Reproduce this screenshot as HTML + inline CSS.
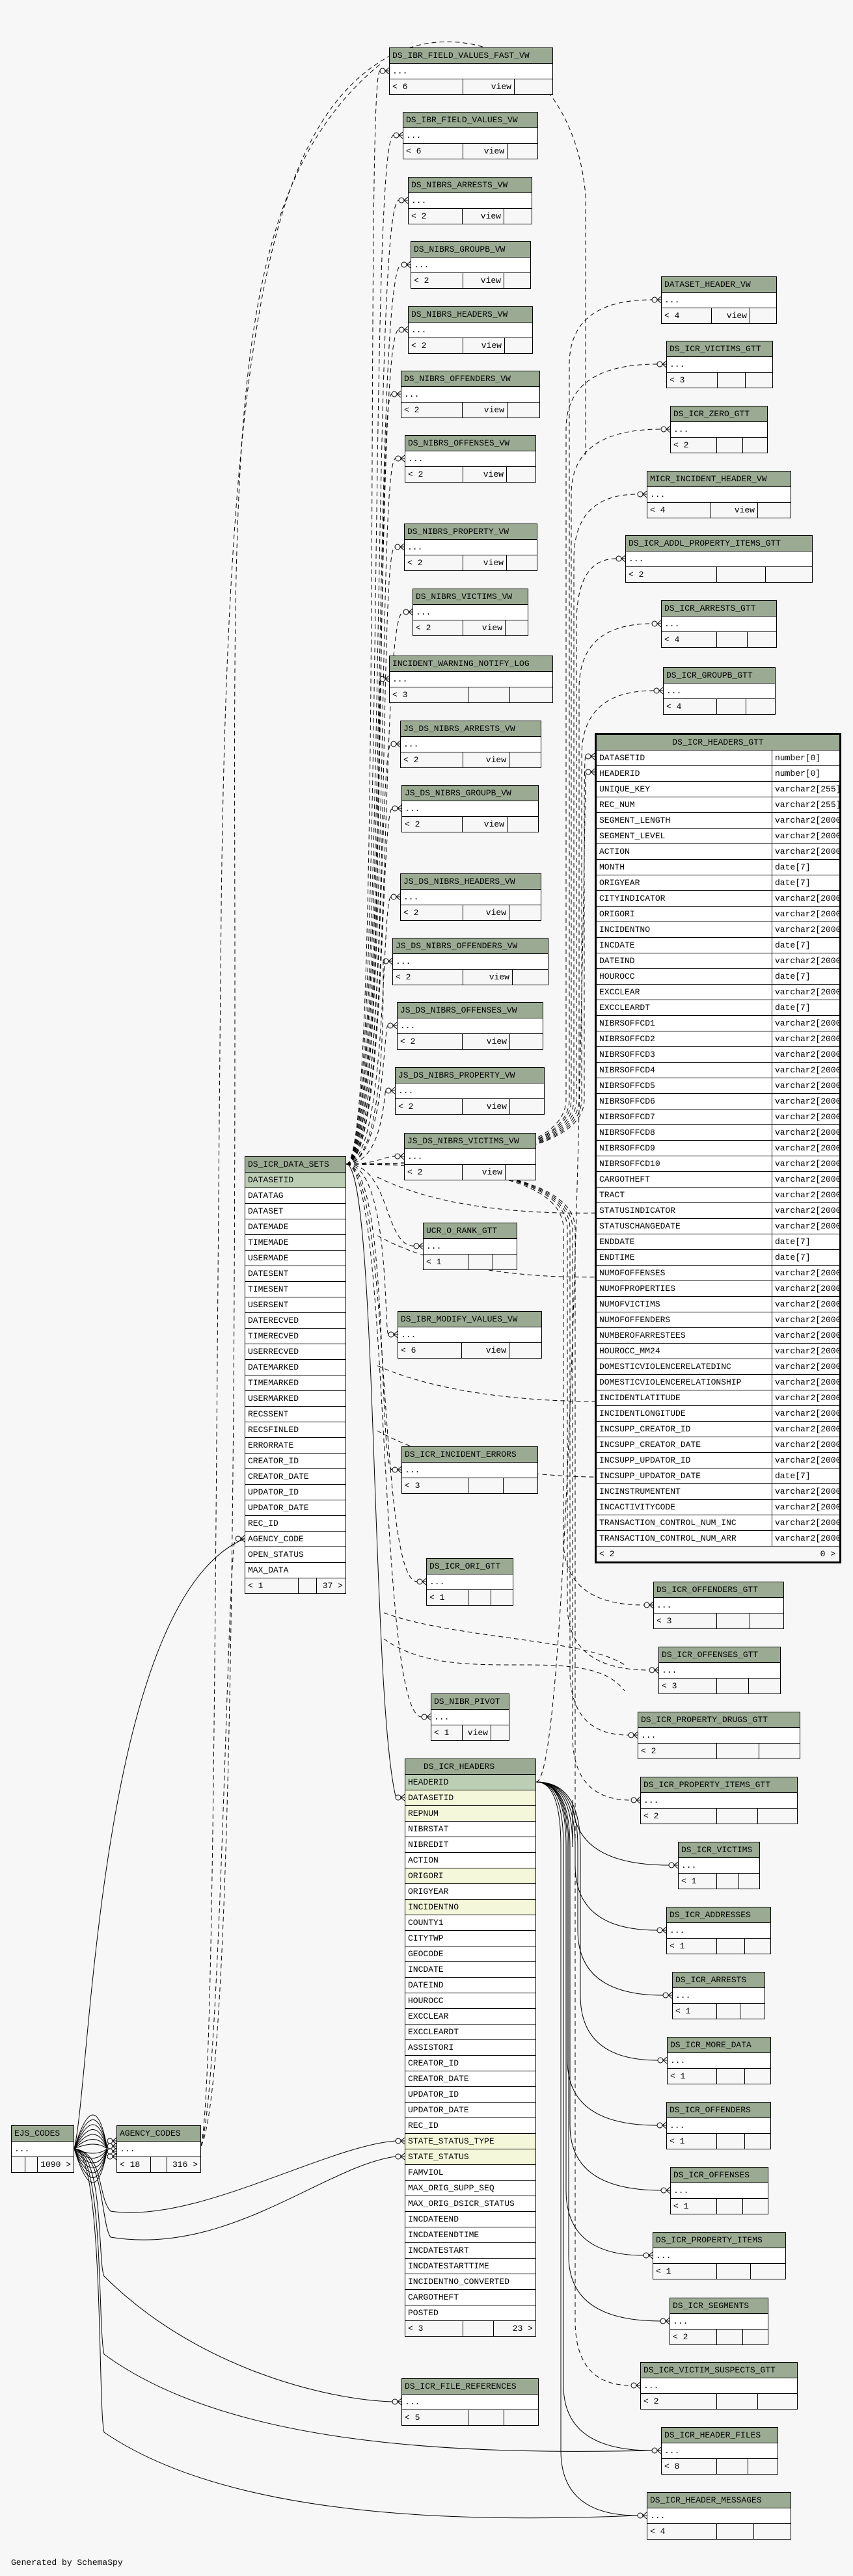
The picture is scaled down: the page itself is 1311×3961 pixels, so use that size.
<!DOCTYPE html>
<html><head><meta charset="utf-8">
<style>
*{box-sizing:border-box;margin:0;padding:0}
body{width:1311px;height:3961px;background:#f7f7f7;position:relative;overflow:hidden;font-family:"Liberation Mono","DejaVu Sans Mono",monospace;font-size:13px;color:#000}
svg{position:absolute;left:0;top:0}
.t{position:absolute;border:1px solid #000;background:#fff}
.t>div{height:24px;line-height:23px;border-top:1px solid #000;padding-left:4px;white-space:nowrap;overflow:hidden}
.t>div:first-child{border-top:none;height:23px}
.h{background:#9bab93}
.pk{background:#bccfb5}
.fk{background:#f4f7da}
.f{display:flex;background:#f7f7f7;padding-left:0!important}
.f span{display:block;height:23px;border-right:1px solid #000;padding:0 4px}
.f span:last-child{border-right:none;flex:1}
.r{background:#fff}
.g{border:3px solid #000}
.g>div{display:flex;padding-left:0}
.g>div span{display:block;padding-left:4px;overflow:hidden}
.g>div span:first-child{width:270px;border-right:1px solid #000}
.g>div span:last-child{flex:1}
.gen{position:absolute;left:17px;top:3933px;font-size:13px}
</style></head><body>
<svg width="1311" height="3961" viewBox="0 0 1311 3961">
<defs><g id="cf"><circle cx="-10" cy="0" r="4" fill="none" stroke="#000"/><path d="M-6,0 H0 M-6,0 L0,-5 M-6,0 L0,5" stroke="#000" fill="none"/></g></defs>
<g fill="none" stroke="#000" stroke-width="1" stroke-dasharray="7,5">
<path d="M532,1790 C590,1790 560,109 584,109"/>
<path d="M532,1790 C592,1790 565,208 605,208"/>
<path d="M532,1790 C594,1790 570,308 613,308"/>
<path d="M532,1790 C596,1790 572,407 617,407"/>
<path d="M532,1790 C598,1790 574,507 613,507"/>
<path d="M532,1790 C600,1790 576,606 602,606"/>
<path d="M532,1790 C602,1790 578,705 608,705"/>
<path d="M532,1790 C604,1790 580,841 607,841"/>
<path d="M532,1790 C606,1790 582,941 620,941"/>
<path d="M532,1790 C590,1790 580,1044 584,1044"/>
<path d="M532,1790 C592,1790 582,1144 601,1144"/>
<path d="M532,1790 C594,1790 584,1243 603,1243"/>
<path d="M532,1790 C596,1790 586,1379 601,1379"/>
<path d="M532,1790 C598,1790 588,1478 589,1478"/>
<path d="M532,1790 C590,1790 590,1577 596,1577"/>
<path d="M532,1790 C590,1790 590,1677 593,1677"/>
<path d="M532,1790 C580,1790 590,1778 607,1778"/>
<path d="M532,1790 C600,1790 590,1916 636,1916"/>
<path d="M532,1790 C600,1790 590,2052 597,2052"/>
<path d="M532,1790 C600,1790 580,2260 603,2260"/>
<path d="M532,1790 C600,1790 580,2432 641,2432"/>
<path d="M532,1790 C600,1790 580,2640 648,2640"/>
<path d="M532,1790 Q875,1790 875,1690 L875,561 Q875,461 1002,461"/>
<path d="M532,1790 Q870,1790 870,1690 L870,660 Q870,560 1010,560"/>
<path d="M532,1790 Q878,1790 878,1690 L878,760 Q878,660 1016,660"/>
<path d="M532,1790 Q882,1790 882,1690 L882,860 Q882,760 980,760"/>
<path d="M532,1790 Q886,1790 886,1690 L886,959 Q886,859 947,859"/>
<path d="M532,1790 Q890,1790 890,1690 L890,1059 Q890,959 1002,959"/>
<path d="M532,1790 Q894,1790 894,1690 L894,1162 Q894,1062 1005,1062"/>
<path d="M532,1790 Q898,1790 898,1690 L898,1263 Q898,1163 900,1163"/>
<path d="M532,1790 Q866,1790 866,1890 L866,2368 Q866,2468 990,2468"/>
<path d="M532,1790 Q872,1790 872,1890 L872,2468 Q872,2568 998,2568"/>
<path d="M532,1790 Q876,1790 876,1890 L876,2568 Q876,2668 966,2668"/>
<path d="M532,1790 Q880,1790 880,1890 L880,2668 Q880,2768 970,2768"/>
<path d="M532,1790 Q884,1790 884,1890 L884,3568 Q884,3668 970,3668"/>
<path d="M824,2740 C880,2740 900,1187 900,1187"/>
<path d="M580,1810 C760,1900 1100,1860 1200,1830"/>
<path d="M580,1900 C760,2000 1100,1960 1200,1930"/>
<path d="M580,2100 C760,2180 1100,2160 1200,2120"/>
<path d="M580,2200 C760,2300 1100,2280 1200,2230"/>
<path d="M590,2480 C700,2520 900,2520 960,2560"/>
<path d="M590,2520 C700,2600 900,2520 960,2600"/>
<path d="M309,3300 C360,3200 361,2000 361,1500 C361,700 340,300 584,99"/>
<path d="M309,3300 C330,3200 330,2400 340,1400 C350,500 420,200 584,95 C700,20 880,80 900,300 L900,700"/>
<path d="M309,3300 C340,3200 350,2366 362,2366"/>
</g>
<g fill="none" stroke="#000" stroke-width="1">
<path d="M532,1790 C580,1790 570,2600 608,2762"/>
<path d="M824,2740 Q880,2740 880,2840 L880,2768 Q880,2868 1028,2868"/>
<path d="M824,2740 Q884,2740 884,2840 L884,2868 Q884,2968 1010,2968"/>
<path d="M824,2740 Q888,2740 888,2840 L888,2968 Q888,3068 1019,3068"/>
<path d="M824,2740 Q892,2740 892,2840 L892,3068 Q892,3168 1011,3168"/>
<path d="M824,2740 Q872,2740 872,2840 L872,3168 Q872,3268 1010,3268"/>
<path d="M824,2740 Q876,2740 876,2840 L876,3268 Q876,3368 1016,3368"/>
<path d="M824,2740 Q870,2740 870,2840 L870,3368 Q870,3468 989,3468"/>
<path d="M824,2740 Q874,2740 874,2840 L874,3469 Q874,3569 1015,3569"/>
<path d="M824,2740 Q866,2740 866,2840 L866,3668 Q866,3768 1002,3768"/>
<path d="M824,2740 Q862,2740 862,2840 L862,3768 Q862,3868 980,3868"/>
<path d="M114,3304 C160,3310 150,3380 170,3400 C300,3420 500,3300 608,3292"/>
<path d="M114,3304 C160,3310 155,3420 170,3440 C350,3470 500,3330 608,3316"/>
<path d="M114,3304 C160,3310 150,3480 160,3500 C300,3640 500,3690 603,3693"/>
<path d="M114,3304 C160,3310 150,3580 160,3620 C350,3760 700,3775 1002,3768"/>
<path d="M114,3304 C160,3310 150,3700 160,3740 C350,3870 700,3880 980,3868"/>
<path d="M114,3304 C140,3200 150,2460 376,2366"/>
<path d="M114,3304 Q146,3200 165,3304 M114,3304 Q146,3215 165,3304 M114,3304 Q146,3230 165,3304 M114,3304 Q146,3245 165,3304 M114,3304 Q146,3260 165,3304 M114,3304 Q146,3275 165,3304 M114,3304 Q146,3290 165,3304 M114,3304 Q146,3318 165,3304 M114,3304 Q146,3333 165,3304 M114,3304 Q146,3348 165,3304 M114,3304 Q146,3363 165,3304 M114,3304 Q146,3378 165,3304 M114,3304 Q146,3393 165,3304 M114,3304 Q146,3408 165,3304"/>
</g>
<g>
<use href="#cf" x="598" y="109"/><use href="#cf" x="619" y="208"/><use href="#cf" x="627" y="308"/><use href="#cf" x="631" y="407"/><use href="#cf" x="627" y="507"/><use href="#cf" x="616" y="606"/><use href="#cf" x="622" y="705"/><use href="#cf" x="621" y="841"/><use href="#cf" x="634" y="941"/><use href="#cf" x="598" y="1044"/><use href="#cf" x="615" y="1144"/><use href="#cf" x="617" y="1243"/><use href="#cf" x="615" y="1379"/><use href="#cf" x="603" y="1478"/><use href="#cf" x="610" y="1577"/><use href="#cf" x="607" y="1677"/><use href="#cf" x="621" y="1778"/><use href="#cf" x="650" y="1916"/><use href="#cf" x="611" y="2052"/><use href="#cf" x="617" y="2260"/><use href="#cf" x="655" y="2432"/><use href="#cf" x="662" y="2640"/>
<use href="#cf" x="1016" y="461"/><use href="#cf" x="1024" y="560"/><use href="#cf" x="1030" y="660"/><use href="#cf" x="994" y="760"/><use href="#cf" x="961" y="859"/><use href="#cf" x="1016" y="959"/><use href="#cf" x="1019" y="1062"/><use href="#cf" x="914" y="1163"/><use href="#cf" x="914" y="1187"/>
<use href="#cf" x="1004" y="2468"/><use href="#cf" x="1012" y="2568"/><use href="#cf" x="980" y="2668"/><use href="#cf" x="984" y="2768"/><use href="#cf" x="1042" y="2868"/><use href="#cf" x="1024" y="2968"/><use href="#cf" x="1033" y="3068"/><use href="#cf" x="1025" y="3168"/><use href="#cf" x="1024" y="3268"/><use href="#cf" x="1030" y="3368"/><use href="#cf" x="1003" y="3468"/><use href="#cf" x="1029" y="3569"/><use href="#cf" x="984" y="3668"/><use href="#cf" x="1016" y="3768"/><use href="#cf" x="994" y="3868"/>
<use href="#cf" x="622" y="2764"/><use href="#cf" x="622" y="3292"/><use href="#cf" x="622" y="3316"/><use href="#cf" x="617" y="3693"/><use href="#cf" x="376" y="2366"/>
<use href="#cf" x="179" y="3292"/><use href="#cf" x="179" y="3300"/><use href="#cf" x="179" y="3308"/><use href="#cf" x="179" y="3316"/>
</g>
</svg>

<div class="t" style="left:598px;top:73px;width:252px"><div class="h">DS_IBR_FIELD_VALUES_FAST_VW</div><div class="r">...</div><div class="f"><span style="width:113px">&lt; 6</span><span style="width:79px;text-align:right">view</span><span></span></div></div>
<div class="t" style="left:619px;top:172px;width:208px"><div class="h">DS_IBR_FIELD_VALUES_VW</div><div class="r">...</div><div class="f"><span style="width:92px">&lt; 6</span><span style="width:68px;text-align:right">view</span><span></span></div></div>
<div class="t" style="left:627px;top:272px;width:191px"><div class="h">DS_NIBRS_ARRESTS_VW</div><div class="r">...</div><div class="f"><span style="width:83px">&lt; 2</span><span style="width:64px;text-align:right">view</span><span></span></div></div>
<div class="t" style="left:631px;top:371px;width:185px"><div class="h">DS_NIBRS_GROUPB_VW</div><div class="r">...</div><div class="f"><span style="width:80px">&lt; 2</span><span style="width:63px;text-align:right">view</span><span></span></div></div>
<div class="t" style="left:627px;top:471px;width:192px"><div class="h">DS_NIBRS_HEADERS_VW</div><div class="r">...</div><div class="f"><span style="width:84px">&lt; 2</span><span style="width:64px;text-align:right">view</span><span></span></div></div>
<div class="t" style="left:616px;top:570px;width:214px"><div class="h">DS_NIBRS_OFFENDERS_VW</div><div class="r">...</div><div class="f"><span style="width:94px">&lt; 2</span><span style="width:69px;text-align:right">view</span><span></span></div></div>
<div class="t" style="left:622px;top:669px;width:202px"><div class="h">DS_NIBRS_OFFENSES_VW</div><div class="r">...</div><div class="f"><span style="width:89px">&lt; 2</span><span style="width:67px;text-align:right">view</span><span></span></div></div>
<div class="t" style="left:621px;top:805px;width:205px"><div class="h">DS_NIBRS_PROPERTY_VW</div><div class="r">...</div><div class="f"><span style="width:90px">&lt; 2</span><span style="width:67px;text-align:right">view</span><span></span></div></div>
<div class="t" style="left:634px;top:905px;width:178px"><div class="h">DS_NIBRS_VICTIMS_VW</div><div class="r">...</div><div class="f"><span style="width:77px">&lt; 2</span><span style="width:65px;text-align:right">view</span><span></span></div></div>
<div class="t" style="left:598px;top:1008px;width:252px"><div class="h">INCIDENT_WARNING_NOTIFY_LOG</div><div class="r">...</div><div class="f"><span style="width:121px">&lt; 3</span><span style="width:64px"></span><span></span></div></div>
<div class="t" style="left:615px;top:1108px;width:217px"><div class="h">JS_DS_NIBRS_ARRESTS_VW</div><div class="r">...</div><div class="f"><span style="width:96px">&lt; 2</span><span style="width:71px;text-align:right">view</span><span></span></div></div>
<div class="t" style="left:617px;top:1207px;width:211px"><div class="h">JS_DS_NIBRS_GROUPB_VW</div><div class="r">...</div><div class="f"><span style="width:93px">&lt; 2</span><span style="width:69px;text-align:right">view</span><span></span></div></div>
<div class="t" style="left:615px;top:1343px;width:217px"><div class="h">JS_DS_NIBRS_HEADERS_VW</div><div class="r">...</div><div class="f"><span style="width:96px">&lt; 2</span><span style="width:71px;text-align:right">view</span><span></span></div></div>
<div class="t" style="left:603px;top:1442px;width:240px"><div class="h">JS_DS_NIBRS_OFFENDERS_VW</div><div class="r">...</div><div class="f"><span style="width:108px">&lt; 2</span><span style="width:76px;text-align:right">view</span><span></span></div></div>
<div class="t" style="left:610px;top:1541px;width:225px"><div class="h">JS_DS_NIBRS_OFFENSES_VW</div><div class="r">...</div><div class="f"><span style="width:100px">&lt; 2</span><span style="width:73px;text-align:right">view</span><span></span></div></div>
<div class="t" style="left:607px;top:1641px;width:230px"><div class="h">JS_DS_NIBRS_PROPERTY_VW</div><div class="r">...</div><div class="f"><span style="width:103px">&lt; 2</span><span style="width:73px;text-align:right">view</span><span></span></div></div>
<div class="t" style="left:621px;top:1742px;width:203px"><div class="h">JS_DS_NIBRS_VICTIMS_VW</div><div class="r">...</div><div class="f"><span style="width:89px">&lt; 2</span><span style="width:66px;text-align:right">view</span><span></span></div></div>
<div class="t" style="left:650px;top:1880px;width:145px"><div class="h">UCR_O_RANK_GTT</div><div class="r">...</div><div class="f"><span style="width:69px">&lt; 1</span><span style="width:38px"></span><span></span></div></div>
<div class="t" style="left:611px;top:2016px;width:222px"><div class="h">DS_IBR_MODIFY_VALUES_VW</div><div class="r">...</div><div class="f"><span style="width:98px">&lt; 6</span><span style="width:73px;text-align:right">view</span><span></span></div></div>
<div class="t" style="left:617px;top:2224px;width:210px"><div class="h">DS_ICR_INCIDENT_ERRORS</div><div class="r">...</div><div class="f"><span style="width:102px">&lt; 3</span><span style="width:54px"></span><span></span></div></div>
<div class="t" style="left:655px;top:2396px;width:134px"><div class="h">DS_ICR_ORI_GTT</div><div class="r">...</div><div class="f"><span style="width:64px">&lt; 1</span><span style="width:35px"></span><span></span></div></div>
<div class="t" style="left:662px;top:2604px;width:121px"><div class="h">DS_NIBR_PIVOT</div><div class="r">...</div><div class="f"><span style="width:48px">&lt; 1</span><span style="width:44px;text-align:right">view</span><span></span></div></div>
<div class="t" style="left:617px;top:3657px;width:211px"><div class="h">DS_ICR_FILE_REFERENCES</div><div class="r">...</div><div class="f"><span style="width:102px">&lt; 5</span><span style="width:55px"></span><span></span></div></div>

<div class="t" style="left:1016px;top:425px;width:178px"><div class="h">DATASET_HEADER_VW</div><div class="r">...</div><div class="f"><span style="width:77px">&lt; 4</span><span style="width:59px;text-align:right">view</span><span></span></div></div>
<div class="t" style="left:1024px;top:524px;width:164px"><div class="h">DS_ICR_VICTIMS_GTT</div><div class="r">...</div><div class="f"><span style="width:78px">&lt; 3</span><span style="width:43px"></span><span></span></div></div>
<div class="t" style="left:1030px;top:624px;width:150px"><div class="h">DS_ICR_ZERO_GTT</div><div class="r">...</div><div class="f"><span style="width:71px">&lt; 2</span><span style="width:40px"></span><span></span></div></div>
<div class="t" style="left:994px;top:724px;width:222px"><div class="h">MICR_INCIDENT_HEADER_VW</div><div class="r">...</div><div class="f"><span style="width:98px">&lt; 4</span><span style="width:72px;text-align:right">view</span><span></span></div></div>
<div class="t" style="left:961px;top:823px;width:288px"><div class="h">DS_ICR_ADDL_PROPERTY_ITEMS_GTT</div><div class="r">...</div><div class="f"><span style="width:140px">&lt; 2</span><span style="width:75px"></span><span></span></div></div>
<div class="t" style="left:1016px;top:923px;width:178px"><div class="h">DS_ICR_ARRESTS_GTT</div><div class="r">...</div><div class="f"><span style="width:85px">&lt; 4</span><span style="width:47px"></span><span></span></div></div>
<div class="t" style="left:1019px;top:1026px;width:173px"><div class="h">DS_ICR_GROUPB_GTT</div><div class="r">...</div><div class="f"><span style="width:82px">&lt; 4</span><span style="width:45px"></span><span></span></div></div>

<div class="t g" style="left:914px;top:1127px;width:379px">
<div class="h" style="display:block;text-align:center;padding-left:0">DS_ICR_HEADERS_GTT</div>
<div><span>DATASETID</span><span>number[0]</span></div>
<div><span>HEADERID</span><span>number[0]</span></div>
<div><span>UNIQUE_KEY</span><span>varchar2[255]</span></div>
<div><span>REC_NUM</span><span>varchar2[255]</span></div>
<div><span>SEGMENT_LENGTH</span><span>varchar2[2000]</span></div>
<div><span>SEGMENT_LEVEL</span><span>varchar2[2000]</span></div>
<div><span>ACTION</span><span>varchar2[2000]</span></div>
<div><span>MONTH</span><span>date[7]</span></div>
<div><span>ORIGYEAR</span><span>date[7]</span></div>
<div><span>CITYINDICATOR</span><span>varchar2[2000]</span></div>
<div><span>ORIGORI</span><span>varchar2[2000]</span></div>
<div><span>INCIDENTNO</span><span>varchar2[2000]</span></div>
<div><span>INCDATE</span><span>date[7]</span></div>
<div><span>DATEIND</span><span>varchar2[2000]</span></div>
<div><span>HOUROCC</span><span>date[7]</span></div>
<div><span>EXCCLEAR</span><span>varchar2[2000]</span></div>
<div><span>EXCCLEARDT</span><span>date[7]</span></div>
<div><span>NIBRSOFFCD1</span><span>varchar2[2000]</span></div>
<div><span>NIBRSOFFCD2</span><span>varchar2[2000]</span></div>
<div><span>NIBRSOFFCD3</span><span>varchar2[2000]</span></div>
<div><span>NIBRSOFFCD4</span><span>varchar2[2000]</span></div>
<div><span>NIBRSOFFCD5</span><span>varchar2[2000]</span></div>
<div><span>NIBRSOFFCD6</span><span>varchar2[2000]</span></div>
<div><span>NIBRSOFFCD7</span><span>varchar2[2000]</span></div>
<div><span>NIBRSOFFCD8</span><span>varchar2[2000]</span></div>
<div><span>NIBRSOFFCD9</span><span>varchar2[2000]</span></div>
<div><span>NIBRSOFFCD10</span><span>varchar2[2000]</span></div>
<div><span>CARGOTHEFT</span><span>varchar2[2000]</span></div>
<div><span>TRACT</span><span>varchar2[2000]</span></div>
<div><span>STATUSINDICATOR</span><span>varchar2[2000]</span></div>
<div><span>STATUSCHANGEDATE</span><span>varchar2[2000]</span></div>
<div><span>ENDDATE</span><span>date[7]</span></div>
<div><span>ENDTIME</span><span>date[7]</span></div>
<div><span>NUMOFOFFENSES</span><span>varchar2[2000]</span></div>
<div><span>NUMOFPROPERTIES</span><span>varchar2[2000]</span></div>
<div><span>NUMOFVICTIMS</span><span>varchar2[2000]</span></div>
<div><span>NUMOFOFFENDERS</span><span>varchar2[2000]</span></div>
<div><span>NUMBEROFARRESTEES</span><span>varchar2[2000]</span></div>
<div><span>HOUROCC_MM24</span><span>varchar2[2000]</span></div>
<div><span>DOMESTICVIOLENCERELATEDINC</span><span>varchar2[2000]</span></div>
<div><span>DOMESTICVIOLENCERELATIONSHIP</span><span>varchar2[2000]</span></div>
<div><span>INCIDENTLATITUDE</span><span>varchar2[2000]</span></div>
<div><span>INCIDENTLONGITUDE</span><span>varchar2[2000]</span></div>
<div><span>INCSUPP_CREATOR_ID</span><span>varchar2[2000]</span></div>
<div><span>INCSUPP_CREATOR_DATE</span><span>varchar2[2000]</span></div>
<div><span>INCSUPP_UPDATOR_ID</span><span>varchar2[2000]</span></div>
<div><span>INCSUPP_UPDATOR_DATE</span><span>date[7]</span></div>
<div><span>INCINSTRUMENTENT</span><span>varchar2[2000]</span></div>
<div><span>INCACTIVITYCODE</span><span>varchar2[2000]</span></div>
<div><span>TRANSACTION_CONTROL_NUM_INC</span><span>varchar2[2000]</span></div>
<div><span>TRANSACTION_CONTROL_NUM_ARR</span><span>varchar2[2000]</span></div>
<div style="background:#f7f7f7;justify-content:space-between;padding:0 6px 0 4px"><span style="border:none;width:auto;padding:0">&lt; 2</span><span style="flex:none;padding:0">0 &gt;</span></div>
</div>

<div class="t" style="left:1004px;top:2432px;width:201px"><div class="h">DS_ICR_OFFENDERS_GTT</div><div class="r">...</div><div class="f"><span style="width:97px">&lt; 3</span><span style="width:51px"></span><span></span></div></div>
<div class="t" style="left:1012px;top:2532px;width:188px"><div class="h">DS_ICR_OFFENSES_GTT</div><div class="r">...</div><div class="f"><span style="width:89px">&lt; 3</span><span style="width:49px"></span><span></span></div></div>
<div class="t" style="left:980px;top:2632px;width:250px"><div class="h">DS_ICR_PROPERTY_DRUGS_GTT</div><div class="r">...</div><div class="f"><span style="width:121px">&lt; 2</span><span style="width:65px"></span><span></span></div></div>
<div class="t" style="left:984px;top:2732px;width:242px"><div class="h">DS_ICR_PROPERTY_ITEMS_GTT</div><div class="r">...</div><div class="f"><span style="width:117px">&lt; 2</span><span style="width:63px"></span><span></span></div></div>
<div class="t" style="left:1042px;top:2832px;width:126px"><div class="h">DS_ICR_VICTIMS</div><div class="r">...</div><div class="f"><span style="width:59px">&lt; 1</span><span style="width:34px"></span><span></span></div></div>
<div class="t" style="left:1024px;top:2932px;width:161px"><div class="h">DS_ICR_ADDRESSES</div><div class="r">...</div><div class="f"><span style="width:77px">&lt; 1</span><span style="width:43px"></span><span></span></div></div>
<div class="t" style="left:1033px;top:3032px;width:143px"><div class="h">DS_ICR_ARRESTS</div><div class="r">...</div><div class="f"><span style="width:68px">&lt; 1</span><span style="width:36px"></span><span></span></div></div>
<div class="t" style="left:1025px;top:3132px;width:160px"><div class="h">DS_ICR_MORE_DATA</div><div class="r">...</div><div class="f"><span style="width:76px">&lt; 1</span><span style="width:43px"></span><span></span></div></div>
<div class="t" style="left:1024px;top:3232px;width:161px"><div class="h">DS_ICR_OFFENDERS</div><div class="r">...</div><div class="f"><span style="width:77px">&lt; 1</span><span style="width:43px"></span><span></span></div></div>
<div class="t" style="left:1030px;top:3332px;width:151px"><div class="h">DS_ICR_OFFENSES</div><div class="r">...</div><div class="f"><span style="width:71px">&lt; 1</span><span style="width:40px"></span><span></span></div></div>
<div class="t" style="left:1003px;top:3432px;width:205px"><div class="h">DS_ICR_PROPERTY_ITEMS</div><div class="r">...</div><div class="f"><span style="width:98px">&lt; 1</span><span style="width:52px"></span><span></span></div></div>
<div class="t" style="left:1029px;top:3533px;width:152px"><div class="h">DS_ICR_SEGMENTS</div><div class="r">...</div><div class="f"><span style="width:72px">&lt; 2</span><span style="width:40px"></span><span></span></div></div>
<div class="t" style="left:984px;top:3632px;width:242px"><div class="h">DS_ICR_VICTIM_SUSPECTS_GTT</div><div class="r">...</div><div class="f"><span style="width:117px">&lt; 2</span><span style="width:63px"></span><span></span></div></div>
<div class="t" style="left:1016px;top:3732px;width:180px"><div class="h">DS_ICR_HEADER_FILES</div><div class="r">...</div><div class="f"><span style="width:85px">&lt; 8</span><span style="width:48px"></span><span></span></div></div>
<div class="t" style="left:994px;top:3832px;width:222px"><div class="h">DS_ICR_HEADER_MESSAGES</div><div class="r">...</div><div class="f"><span style="width:107px">&lt; 4</span><span style="width:57px"></span><span></span></div></div>

<div class="t" style="left:376px;top:1778px;width:156px">
<div class="h">DS_ICR_DATA_SETS</div>
<div class="pk">DATASETID</div><div>DATATAG</div><div>DATASET</div><div>DATEMADE</div><div>TIMEMADE</div><div>USERMADE</div><div>DATESENT</div><div>TIMESENT</div><div>USERSENT</div><div>DATERECVED</div><div>TIMERECVED</div><div>USERRECVED</div><div>DATEMARKED</div><div>TIMEMARKED</div><div>USERMARKED</div><div>RECSSENT</div><div>RECSFINLED</div><div>ERRORRATE</div><div>CREATOR_ID</div><div>CREATOR_DATE</div><div>UPDATOR_ID</div><div>UPDATOR_DATE</div><div>REC_ID</div><div>AGENCY_CODE</div><div>OPEN_STATUS</div><div>MAX_DATA</div>
<div class="f"><span style="width:82px">&lt; 1</span><span style="width:28px"></span><span style="text-align:right">37 &gt;</span></div>
</div>

<div class="t" style="left:622px;top:2704px;width:202px">
<div class="h" style="padding-left:28px">DS_ICR_HEADERS</div>
<div class="pk">HEADERID</div><div class="fk">DATASETID</div><div class="fk">REPNUM</div><div>NIBRSTAT</div><div>NIBREDIT</div><div>ACTION</div><div class="fk">ORIGORI</div><div>ORIGYEAR</div><div class="fk">INCIDENTNO</div><div>COUNTY1</div><div>CITYTWP</div><div>GEOCODE</div><div>INCDATE</div><div>DATEIND</div><div>HOUROCC</div><div>EXCCLEAR</div><div>EXCCLEARDT</div><div>ASSISTORI</div><div>CREATOR_ID</div><div>CREATOR_DATE</div><div>UPDATOR_ID</div><div>UPDATOR_DATE</div><div>REC_ID</div><div class="fk">STATE_STATUS_TYPE</div><div class="fk">STATE_STATUS</div><div>FAMVIOL</div><div>MAX_ORIG_SUPP_SEQ</div><div>MAX_ORIG_DSICR_STATUS</div><div>INCDATEEND</div><div>INCDATEENDTIME</div><div>INCDATESTART</div><div>INCDATESTARTTIME</div><div>INCIDENTNO_CONVERTED</div><div>CARGOTHEFT</div><div>POSTED</div>
<div class="f"><span style="width:89px">&lt; 3</span><span style="width:47px"></span><span style="text-align:right">23 &gt;</span></div>
</div>

<div class="t" style="left:17px;top:3268px;width:97px"><div class="h">EJS_CODES</div><div class="r">...</div><div class="f"><span style="width:21px"></span><span style="width:20px"></span><span style="text-align:right">1090 &gt;</span></div></div>
<div class="t" style="left:179px;top:3268px;width:130px"><div class="h">AGENCY_CODES</div><div class="r">...</div><div class="f"><span style="width:52px">&lt; 18</span><span style="width:25px"></span><span style="text-align:right">316 &gt;</span></div></div>

<div class="gen">Generated by SchemaSpy</div>
</body></html>
